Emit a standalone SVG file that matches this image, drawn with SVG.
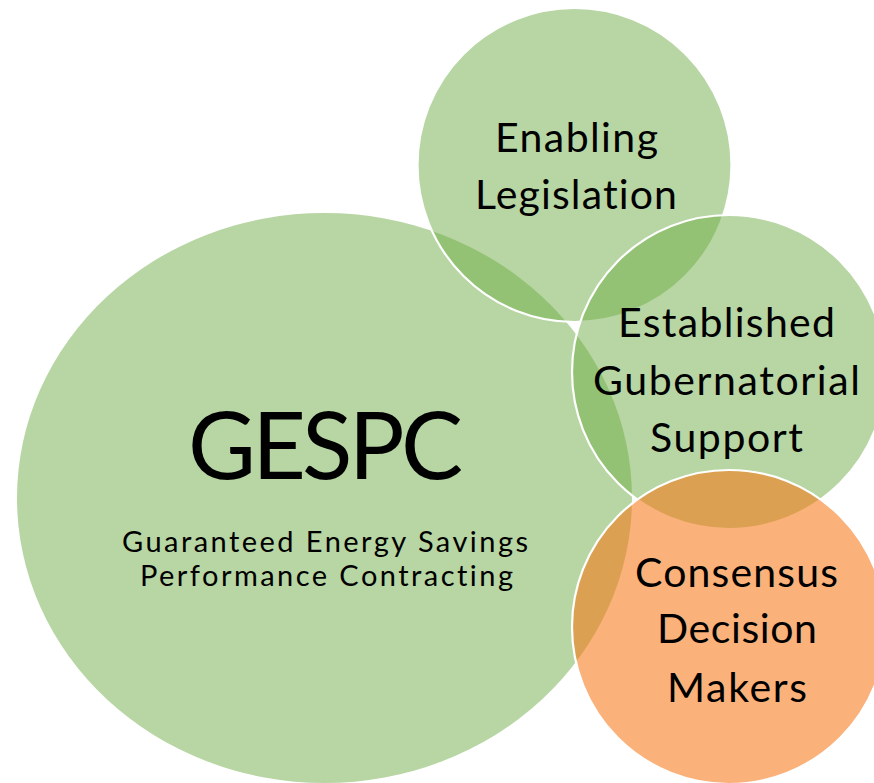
<svg xmlns="http://www.w3.org/2000/svg" width="874" height="783" viewBox="0 0 874 783">
  <style>
    .g { fill: #70AD47; fill-opacity: 0.5; }
    .o { fill: #F7781A; fill-opacity: 0.58; }
    .ring { stroke: #FFFFFF; stroke-width: 2.2; }
    text { font-family: Lato, "Open Sans", "Liberation Sans", sans-serif; fill: #000000; text-anchor: middle; font-variant-ligatures: none; }
    .lbl { font-size: 41px; }
    .big { font-size: 93px; }
    .sub { font-size: 29px; }
  </style>
  <rect width="874" height="783" fill="#FFFFFF"/>
  <g id="gespc">
    <ellipse class="g" cx="324.5" cy="498" rx="307.5" ry="285"/>
    <text class="big" x="325.5" y="479" textLength="275">GESPC</text>
    <text class="sub" x="325" y="552" textLength="406">Guaranteed Energy Savings</text>
    <text class="sub" x="326.5" y="586" textLength="373">Performance Contracting</text>
  </g>
  <g id="enabling-legislation">
    <circle class="g ring" cx="574.5" cy="165" r="157"/>
    <text class="lbl" x="576.5" y="152" textLength="163">Enabling</text>
    <text class="lbl" x="576" y="209" textLength="202">Legislation</text>
  </g>
  <g id="gubernatorial-support">
    <circle class="g ring" cx="729" cy="372" r="157"/>
    <text class="lbl" x="726.5" y="337" textLength="217">Established</text>
    <text class="lbl" x="726.5" y="395" textLength="267">Gubernatorial</text>
    <text class="lbl" x="726.5" y="452" textLength="153">Support</text>
  </g>
  <g id="consensus-decision-makers">
    <circle class="o ring" cx="729" cy="627" r="157"/>
    <text class="lbl" x="736.5" y="587" textLength="203">Consensus</text>
    <text class="lbl" x="737" y="643" textLength="160">Decision</text>
    <text class="lbl" x="737" y="702" textLength="140">Makers</text>
  </g>
  <g id="connectors"/>
</svg>
